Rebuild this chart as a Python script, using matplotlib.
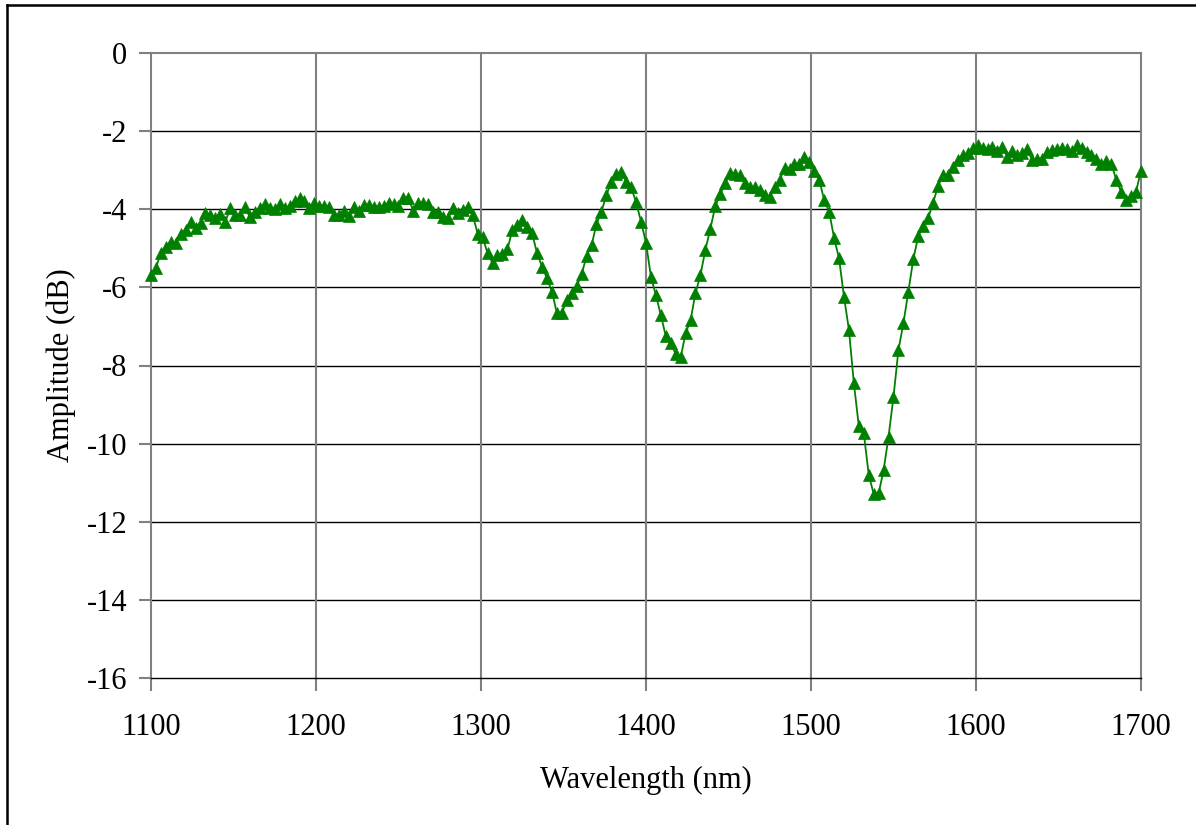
import numpy as np
import matplotlib
matplotlib.use("Agg")
import matplotlib.pyplot as plt
from matplotlib.lines import Line2D

# sampling grid (nm)
wavelength = np.arange(1100, 1701, 3)

amplitude = [
    -5.68, -5.50, -5.11, -4.96, -4.83, -4.86, -4.63, -4.53, -4.32, -4.48,
    -4.35, -4.09, -4.15, -4.22, -4.13, -4.32, -3.98, -4.15, -4.15, -3.95,
    -4.21, -4.06, -3.98, -3.87, -3.98, -4.00, -3.87, -3.98, -3.92, -3.78,
    -3.72, -3.78, -3.98, -3.85, -3.92, -3.92, -3.93, -4.15, -4.15, -4.04,
    -4.17, -3.95, -4.04, -3.89, -3.89, -3.93, -3.93, -3.92, -3.83, -3.87,
    -3.92, -3.72, -3.72, -4.04, -3.85, -3.85, -3.87, -4.06, -4.06, -4.19,
    -4.23, -3.98, -4.10, -4.02, -3.93, -4.15, -4.63, -4.72, -5.13, -5.38,
    -5.17, -5.15, -5.03, -4.53, -4.40, -4.28, -4.46, -4.62, -5.13, -5.47,
    -5.77, -6.11, -6.66, -6.66, -6.32, -6.15, -5.97, -5.66, -5.20, -4.92,
    -4.38, -4.06, -3.64, -3.29, -3.10, -3.04, -3.29, -3.44, -3.82, -4.32,
    -4.86, -5.73, -6.20, -6.71, -7.25, -7.43, -7.71, -7.79, -7.18, -6.84,
    -6.15, -5.68, -5.04, -4.50, -3.92, -3.61, -3.34, -3.06, -3.10, -3.12,
    -3.34, -3.44, -3.44, -3.51, -3.64, -3.69, -3.44, -3.25, -2.95, -2.98,
    -2.84, -2.84, -2.65, -2.78, -3.02, -3.26, -3.76, -4.06, -4.74, -5.26,
    -6.24, -7.09, -8.46, -9.56, -9.74, -10.80, -11.29, -11.27, -10.68, -9.82,
    -8.80, -7.60, -6.92, -6.11, -5.28, -4.69, -4.44, -4.23, -3.83, -3.41,
    -3.12, -3.12, -2.91, -2.74, -2.61, -2.57, -2.44, -2.36, -2.44, -2.47,
    -2.41, -2.50, -2.40, -2.65, -2.50, -2.61, -2.57, -2.46, -2.74, -2.72,
    -2.72, -2.53, -2.48, -2.47, -2.44, -2.47, -2.50, -2.36, -2.44, -2.53,
    -2.61, -2.72, -2.83, -2.76, -2.83, -3.25, -3.55, -3.76, -3.66, -3.55,
    -3.01,
]

x_ticks = [1100, 1200, 1300, 1400, 1500, 1600, 1700]
y_ticks = [0, -2, -4, -6, -8, -10, -12, -14, -16]

plt.rcParams['font.family'] = ['Liberation Serif', 'DejaVu Serif']

W, H = 1196, 825
FS = 22
fig = plt.figure(figsize=(W / 100, H / 100), dpi=100)
ax = fig.add_axes([151 / W, 1 - 678 / H, (1141 - 151) / W, (678 - 53) / H])

ax.plot(wavelength, amplitude, color='#008000', lw=1.3, marker='^',
        markersize=8, markeredgewidth=0.5, zorder=3, clip_on=False)

ax.set_xlim(1100, 1700)
ax.set_ylim(-16, 0)
ax.set_xticks(x_ticks)
ax.set_yticks(y_ticks)
ax.set_xticklabels([str(v) for v in x_ticks])
ax.set_yticklabels([str(v) for v in y_ticks])

for y in y_ticks[1:-1]:
    ax.axhline(y, color='black', lw=1.0, zorder=1)
for x in x_ticks[1:-1]:
    ax.axvline(x, color='#808080', lw=1.5, zorder=1)

for s in ['top', 'right', 'left']:
    ax.spines[s].set_color('#808080')
    ax.spines[s].set_linewidth(1.5)
ax.spines['bottom'].set_color('black')
ax.spines['bottom'].set_linewidth(1.0)

ax.tick_params(axis='both', direction='out', length=9, width=1.5,
               color='#808080', labelsize=FS)
ax.tick_params(axis='x', pad=16.5)
ax.tick_params(axis='y', pad=8)

ax.set_xlabel('Wavelength (nm)', fontsize=FS)
ax.set_ylabel('Amplitude (dB)', fontsize=FS)
ax.xaxis.set_label_coords(0.5, (678 - 766) / 625)
ax.yaxis.set_label_coords((76 - 151) / 990, 0.5)

# outer chart frame (left and top edges visible)
fig.add_artist(Line2D([7 / W, 7 / W], [0, 1 - 5 / H], transform=fig.transFigure,
                      color='black', lw=1.8))
fig.add_artist(Line2D([7 / W, 1], [1 - 5 / H, 1 - 5 / H], transform=fig.transFigure,
                      color='black', lw=1.8))

fig.savefig('out.png', dpi=100)
